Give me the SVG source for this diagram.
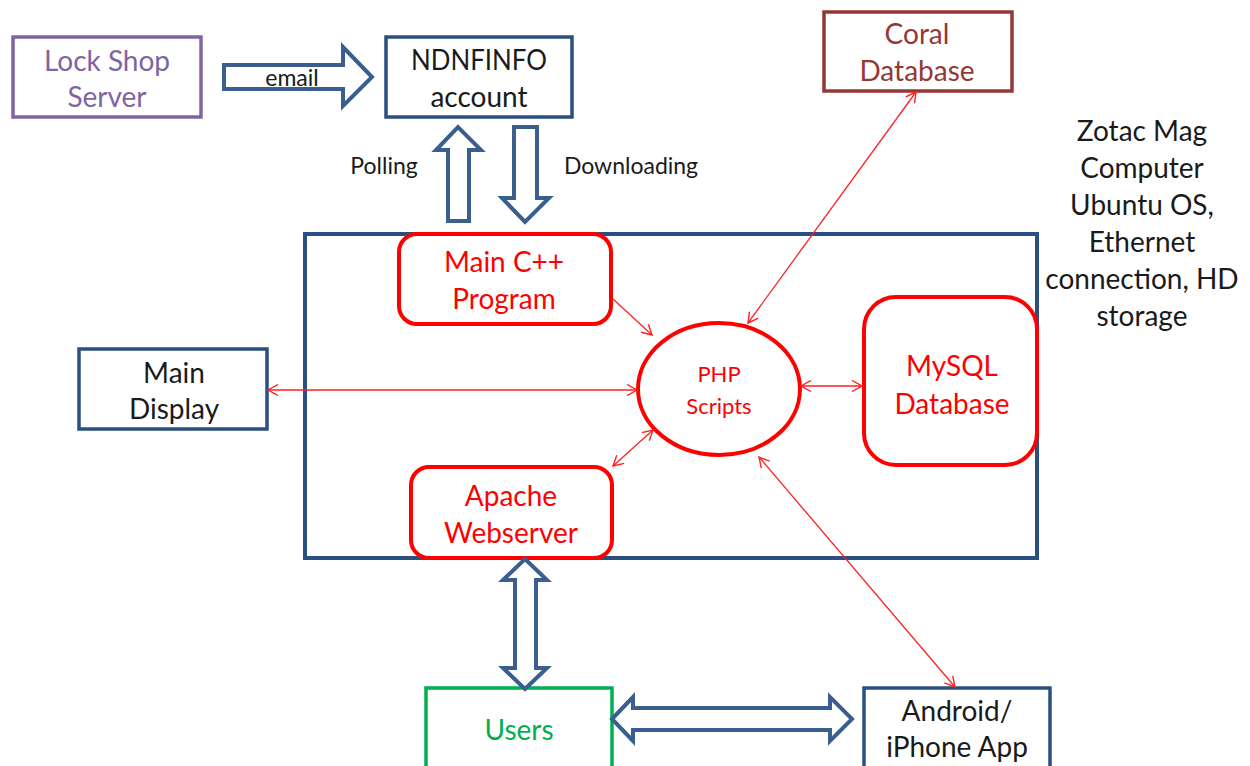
<svg xmlns="http://www.w3.org/2000/svg" width="1250" height="766" viewBox="0 0 1250 766">
  <style>
    text { font-family: Lato, "Open Sans", "Liberation Sans", sans-serif; text-anchor: middle; dominant-baseline: central; }
    .t26 { font-size: 28px; }
    .t20 { font-size: 23px; }
    .t18 { font-size: 22px; }
    .blk { fill: #1a1a1a; }
    .box { fill: #ffffff; stroke-width: 3.5; }
    .blue { stroke: #2B4F80; }
    .red { stroke: #FF0000; fill: #ffffff; stroke-width: 4; }
    .flow { fill: #ffffff; stroke: #3A5F8F; stroke-width: 4; stroke-linejoin: miter; }
    .link { stroke: #FF2020; stroke-width: 1.3; fill: none; }
  </style>
  <defs>
    <marker id="open" viewBox="0 0 12 12" refX="11" refY="6" markerWidth="12" markerHeight="12" markerUnits="userSpaceOnUse" orient="auto-start-reverse">
      <path d="M1,0.5 L11,6 L1,11.5" fill="none" stroke="#FF2020" stroke-width="1.4"/>
    </marker>
  </defs>
  <rect width="1250" height="766" fill="#ffffff"/>

  <!-- host machine enclosure -->
  <g id="host">
    <rect x="305" y="234" width="732" height="324" fill="none" stroke="#2B4F80" stroke-width="4"/>
  </g>

  <g id="lockshop">
    <rect class="box" x="13" y="37" width="188" height="80" stroke="#8064A2"/>
    <text class="t26" x="107" y="60" fill="#8064A2">Lock Shop</text>
    <text class="t26" x="107" y="96" fill="#8064A2">Server</text>
  </g>

  <g id="ndnfinfo">
    <rect class="box blue" x="386" y="37" width="186" height="80"/>
    <text class="t26 blk" x="479" y="59" textLength="136" lengthAdjust="spacingAndGlyphs">NDNFINFO</text>
    <text class="t26 blk" x="479" y="96">account</text>
  </g>

  <g id="coral">
    <rect class="box" x="824" y="12" width="188" height="79" stroke="#953735"/>
    <text class="t26" x="917" y="33" fill="#953735">Coral</text>
    <text class="t26" x="917" y="70" fill="#953735">Database</text>
  </g>

  <g id="zotac">
    <text class="t26 blk" x="1142" y="130">Zotac Mag</text>
    <text class="t26 blk" x="1142" y="167">Computer</text>
    <text class="t26 blk" x="1142" y="204">Ubuntu OS,</text>
    <text class="t26 blk" x="1142" y="241">Ethernet</text>
    <text class="t26 blk" x="1142" y="278">connection, HD</text>
    <text class="t26 blk" x="1142" y="315">storage</text>
  </g>

  <g id="maincpp">
    <rect class="red" x="399" y="234" width="212" height="90" rx="18"/>
    <text class="t26" x="504" y="261" fill="#FF0000">Main C++</text>
    <text class="t26" x="504" y="298" fill="#FF0000">Program</text>
  </g>

  <g id="php">
    <ellipse class="red" cx="719" cy="389" rx="81" ry="66"/>
    <text class="t18" x="719" y="373" fill="#FF0000">PHP</text>
    <text class="t18" x="719" y="405" fill="#FF0000">Scripts</text>
  </g>

  <g id="mysql">
    <rect class="red" x="864" y="297" width="173" height="168" rx="32"/>
    <text class="t26" x="952" y="365" fill="#FF0000">MySQL</text>
    <text class="t26" x="952" y="403" fill="#FF0000">Database</text>
  </g>

  <g id="apache">
    <rect class="red" x="411" y="467" width="201" height="91" rx="18"/>
    <text class="t26" x="511" y="495" fill="#FF0000">Apache</text>
    <text class="t26" x="511" y="532" fill="#FF0000">Webserver</text>
  </g>

  <g id="maindisplay">
    <rect class="box blue" x="79" y="349" width="188" height="80"/>
    <text class="t26 blk" x="174" y="372">Main</text>
    <text class="t26 blk" x="174" y="408">Display</text>
  </g>

  <g id="users">
    <rect class="box" x="426" y="688" width="186" height="90" stroke="#00B050"/>
    <text class="t26" x="519" y="729" fill="#00B050">Users</text>
  </g>

  <g id="app">
    <rect class="box blue" x="864" y="688" width="186" height="90"/>
    <text class="t26 blk" x="957" y="710">Android/</text>
    <text class="t26 blk" x="957" y="746">iPhone App</text>
  </g>

  <g id="connectors">
    <!-- block arrows -->
    <path class="flow" d="M224,65 L343,65 L343,47 L372,77 L343,106 L343,89 L224,89 Z"/>
    <text class="t20 blk" x="292" y="77">email</text>

    <path class="flow" d="M448,221 L448,150 L436,150 L458,127 L481,150 L469,150 L469,221 Z"/>
    <text class="t20 blk" x="384" y="165">Polling</text>

    <path class="flow" d="M514,127 L537,127 L537,198 L549,198 L525,222 L502,198 L514,198 Z"/>
    <text class="t20 blk" x="631" y="165">Downloading</text>

    <path class="flow" d="M525,559 L547,580 L536,580 L536,668 L547,668 L525,689 L503,668 L515,668 L515,580 L503,580 Z"/>

    <path class="flow" d="M612,719 L633,697 L633,708 L830,708 L830,697 L852,719 L830,741 L830,730 L633,730 L633,741 Z"/>

    <!-- red links -->
    <line class="link" x1="268" y1="390" x2="637" y2="390" marker-start="url(#open)" marker-end="url(#open)"/>
    <line class="link" x1="613" y1="299" x2="652" y2="335" marker-end="url(#open)"/>
    <line class="link" x1="613" y1="466" x2="653" y2="430" marker-start="url(#open)" marker-end="url(#open)"/>
    <line class="link" x1="916" y1="92" x2="748" y2="323" marker-start="url(#open)" marker-end="url(#open)"/>
    <line class="link" x1="801" y1="386" x2="862" y2="386" marker-start="url(#open)" marker-end="url(#open)"/>
    <line class="link" x1="759" y1="457" x2="955" y2="687" marker-start="url(#open)" marker-end="url(#open)"/>
  </g>
</svg>
